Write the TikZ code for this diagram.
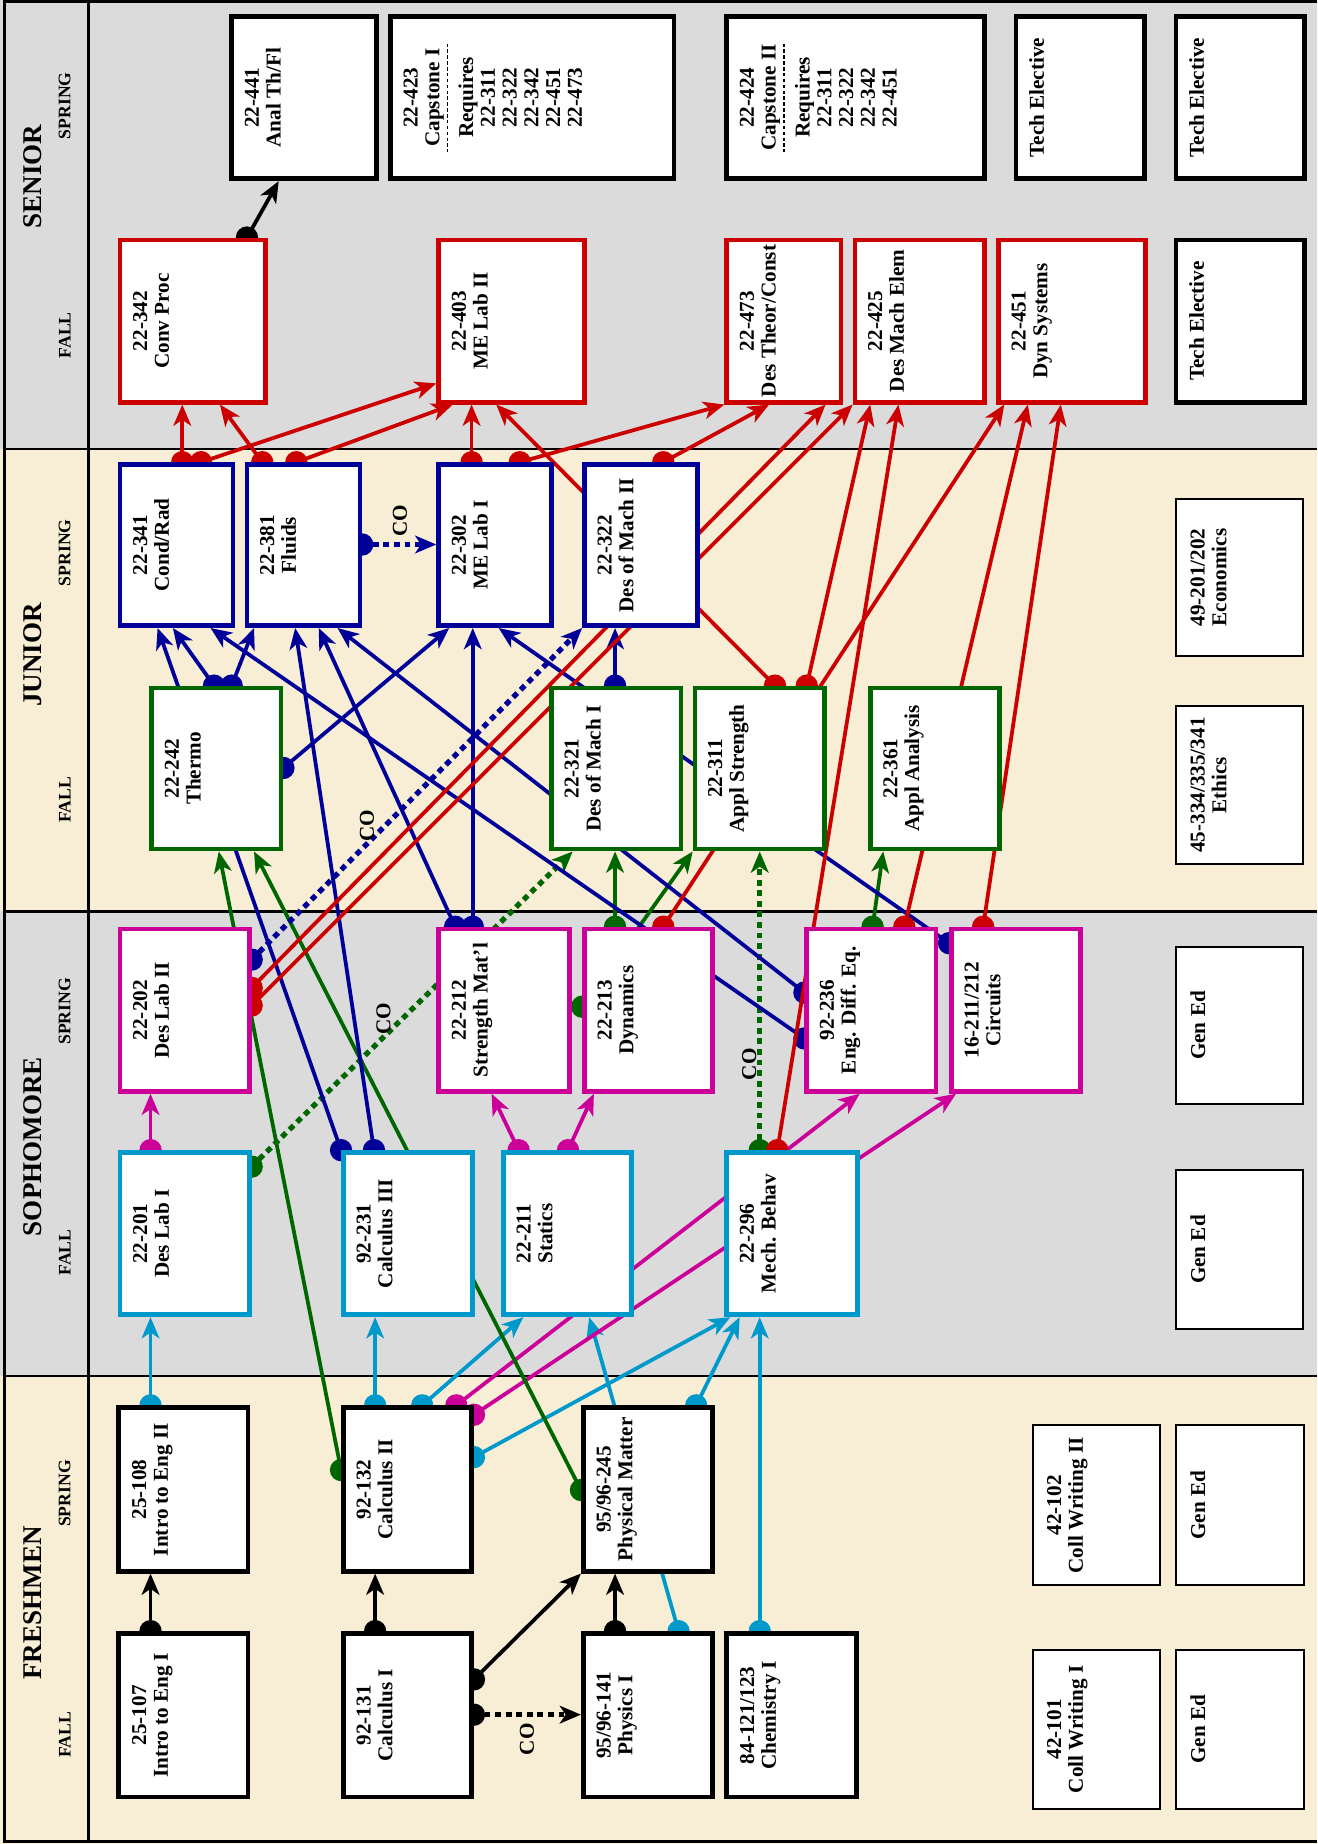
\documentclass[tikz,border=0pt]{standalone}
\usepackage{fontspec}
\setmainfont{Liberation Serif}
\usetikzlibrary{arrows.meta,calc}
\pgfdeclarelayer{bgl}\pgfdeclarelayer{connl}
\pgfsetlayers{bgl,connl,main}
\definecolor{cRed}{RGB}{204,0,0}
\definecolor{cBlue}{RGB}{0,0,153}
\definecolor{cGreen}{RGB}{0,102,0}
\definecolor{cMag}{RGB}{204,0,153}
\definecolor{cCyan}{RGB}{0,153,204}
\definecolor{bgGrey}{RGB}{219,219,219}
\definecolor{bgBeige}{RGB}{248,238,214}
\newcommand\mkbox[7]{%
  \pgfmathsetmacro\bxc{(#2+#4)/2}%
  \pgfmathsetmacro\byc{(#3+#5)/2}%
  \pgfmathsetmacro\bxw{#4-#2}%
  \pgfmathsetmacro\bxh{#5-#3}%
  \node[#6, minimum width=\bxw pt, minimum height=\bxh pt] (#1) at (\bxc,\byc) {};
  \node[lbl, anchor=north] (#1t) at ([xshift=13pt]#1.west) {#7};
}
\newcommand\mkbare[6]{%
  \pgfmathsetmacro\bxc{(#2+#4)/2}%
  \pgfmathsetmacro\byc{(#3+#5)/2}%
  \pgfmathsetmacro\bxw{#4-#2}%
  \pgfmathsetmacro\bxh{#5-#3}%
  \node[#6, minimum width=\bxw pt, minimum height=\bxh pt] (#1) at (\bxc,\byc) {};
}
\newcommand\mkconn[4][]{%
  \fill[#2] #3 circle[radius=9.5pt];
  \draw[conn=#2,#1] #3 -- #4;
}
\begin{document}
\begin{tikzpicture}[x=1pt,y=-1pt,
  box/.style={draw=#1, line width=4pt, fill=white, inner sep=0pt, rectangle},
  thinbox/.style={draw=black, line width=1.8pt, fill=white, inner sep=0pt, rectangle},
  lbl/.style={rotate=90, align=center, inner sep=0pt, font={\fontsize{18}{18.5}\selectfont\bfseries}},
  yearlbl/.style={rotate=90, inner sep=0pt, font={\fontsize{23}{23}\selectfont\bfseries}},
  semlbl/.style={rotate=90, inner sep=0pt, font={\fontsize{15}{15}\selectfont\bfseries}},
  conn/.style={draw=#1, line width=3.2pt, -{Stealth[length=18pt,width=15pt,inset=5pt]}},
  coline/.style={dash pattern=on 5pt off 4pt, line width=4.5pt},
  band/.style={line width=2pt, draw=black}]
\useasboundingbox (0,0) rectangle (1120,1568);

\begin{pgfonlayer}{bgl}
  \fill[bgGrey] (0,0) rectangle (1120,382);
  \fill[bgBeige] (0,382) rectangle (1120,775);
  \fill[bgGrey] (0,775) rectangle (1120,1170);
  \fill[bgBeige] (0,1170) rectangle (1120,1568);
  \draw[band] (4,382) -- (1120,382);
  \draw[band] (4,775) -- (1120,775);
  \draw[band] (4,1170) -- (1120,1170);
  \draw[line width=2.5pt] (1120,1.5) -- (4,1.5) -- (4,1566) -- (1120,1566);
  \draw[line width=2.5pt] (75,1.5) -- (75,1566);
\end{pgfonlayer}

% year / semester labels
\node[yearlbl] (ySen) at (28,150) {SENIOR};
\node[semlbl] (sSenF) at (55,285) {FALL};
\node[semlbl] (sSenS) at (55,90) {SPRING};
\node[yearlbl] (yJun) at (28,557) {JUNIOR};
\node[semlbl] (sJunF) at (55,680) {FALL};
\node[semlbl] (sJunS) at (55,470) {SPRING};
\node[yearlbl] (ySop) at (28,975) {SOPHOMORE};
\node[semlbl] (sSopF) at (55,1065) {FALL};
\node[semlbl] (sSopS) at (55,860) {SPRING};
\node[yearlbl] (yFre) at (28,1363) {FRESHMEN};
\node[semlbl] (sFreF) at (55,1475) {FALL};
\node[semlbl] (sFreS) at (55,1270) {SPRING};

% Freshmen fall
\mkbox{f107}{101}{1389}{211}{1528}{box=black}{25-107\\Intro to Eng I}
\mkbox{f131}{292}{1389}{401}{1528}{box=black}{92-131\\Calculus I}
\mkbox{f141}{496}{1389}{606}{1528}{box=black}{95/96-141\\Physics I}
\mkbox{f121}{618}{1389}{728}{1528}{box=black}{84-121/123\\Chemistry I}
\mkbox{cw1}{878}{1403}{986}{1538}{thinbox}{42-101\\Coll Writing I}
\mkbox{ge1a}{1000}{1403}{1109}{1538}{thinbox}{Gen Ed}
% Freshmen spring
\mkbox{f108}{101}{1197}{211}{1336}{box=black}{25-108\\Intro to Eng II}
\mkbox{f132}{292}{1197}{401}{1336}{box=black}{92-132\\Calculus II}
\mkbox{f245}{496}{1197}{606}{1336}{box=black}{95/96-245\\Physical Matter}
\mkbox{cw2}{878}{1212}{986}{1348}{thinbox}{42-102\\Coll Writing II}
\mkbox{ge1b}{1000}{1212}{1109}{1348}{thinbox}{Gen Ed}
% Sophomore fall
\mkbox{c201}{102}{980}{212}{1118}{box=cCyan}{22-201\\Des Lab I}
\mkbox{c231}{292}{980}{402}{1118}{box=cCyan}{92-231\\Calculus III}
\mkbox{c211}{428}{980}{537}{1118}{box=cCyan}{22-211\\Statics}
\mkbox{c296}{618}{980}{729}{1118}{box=cCyan}{22-296\\Mech. Behav}
\mkbox{ge2}{1000}{995}{1108}{1130}{thinbox}{Gen Ed}
% Sophomore spring
\mkbox{c202}{102}{790}{212}{928}{box=cMag}{22-202\\Des Lab II}
\mkbox{c212}{373}{790}{484}{928}{box=cMag}{22-212\\Strength Mat'l}
\mkbox{c213}{497}{790}{606}{928}{box=cMag}{22-213\\Dynamics}
\mkbox{c236}{686}{790}{796}{928}{box=cMag}{92-236\\Eng. Diff. Eq.}
\mkbox{c16}{809}{790}{919}{928}{box=cMag}{16-211/212\\Circuits}
\mkbox{ge3}{1000}{805}{1108}{939}{thinbox}{Gen Ed}
% Junior fall
\mkbox{c242}{129}{585}{239}{722}{box=cGreen}{22-242\\Thermo}
\mkbox{c321}{469}{585}{579}{722}{box=cGreen}{22-321\\Des of Mach I}
\mkbox{c311}{591}{585}{701}{722}{box=cGreen}{22-311\\Appl Strength}
\mkbox{c361}{740}{585}{850}{722}{box=cGreen}{22-361\\Appl Analysis}
\mkbox{eth}{1000}{600}{1108}{735}{thinbox}{45-334/335/341\\Ethics}
% Junior spring
\mkbox{c341}{102}{395}{198}{532}{box=cBlue}{22-341\\Cond/Rad}
\mkbox{c381}{210}{395}{306}{532}{box=cBlue}{22-381\\Fluids}
\mkbox{c302}{373}{395}{469}{532}{box=cBlue}{22-302\\ME Lab I}
\mkbox{c322}{497}{395}{593}{532}{box=cBlue}{22-322\\Des of Mach II}
\mkbox{econ}{1000}{424}{1108}{558}{thinbox}{49-201/202\\Economics}
% Senior fall
\mkbox{c342}{102}{204}{226}{342}{box=cRed}{22-342\\Conv Proc}
\mkbox{c403}{373}{204}{497}{342}{box=cRed}{22-403\\ME Lab II}
\mkbox{c473}{618}{204}{715}{342}{box=cRed}{22-473\\Des Theor/Const}
\mkbox{c425}{727}{204}{837}{342}{box=cRed}{22-425\\Des Mach Elem}
\mkbox{c451}{849}{204}{974}{342}{box=cRed}{22-451\\Dyn Systems}
\mkbox{tes}{1000}{204}{1109}{342}{box=black}{Tech Elective}
% Senior spring
\mkbox{s441}{197}{14}{320}{152}{box=black}{22-441\\Anal Th/Fl}
\mkbare{cap1}{332}{14}{573}{152}{box=black}
\node[lbl, anchor=north] (cap1a) at ([xshift=13pt]cap1.west) {22-423\\Capstone I};
\draw[line width=1.3pt, dash pattern=on 3pt off 2pt] ([xshift=3pt]cap1a.south) ++(0,-46) -- ++(0,92);
\node[lbl, anchor=north] (cap1b) at ([xshift=12pt]cap1a.south) {Requires\\22-311\\22-322\\22-342\\22-451\\22-473};
\mkbare{cap2}{618}{14}{837}{152}{box=black}
\node[lbl, anchor=north] (cap2a) at ([xshift=13pt]cap2.west) {22-424\\Capstone II};
\draw[line width=1.3pt, dash pattern=on 3pt off 2pt] ([xshift=3pt]cap2a.south) ++(0,-46) -- ++(0,92);
\node[lbl, anchor=north] (cap2b) at ([xshift=12pt]cap2a.south) {Requires\\22-311\\22-322\\22-342\\22-451};
\mkbox{te1}{864}{14}{973}{152}{box=black}{Tech Elective}
\mkbox{te2}{1000}{14}{1109}{152}{box=black}{Tech Elective}

% CO labels
\node[lbl] (co1) at (448,1479) {CO};
\node[lbl] (co2) at (326,866) {CO};
\node[lbl] (co3) at (312,702) {CO};
\node[lbl] (co4) at (340,443) {CO};
\node[lbl] (co5) at (637,905) {CO};

\begin{pgfonlayer}{connl}
% black
\mkconn{black}{(f107.north -| 128,0)}{(f108.south -| 128,0)}
\mkconn{black}{(f131.north -| 319,0)}{(f132.south -| 319,0)}
\mkconn{black}{(f141.north -| 523,0)}{(f245.south -| 523,0)}
\mkconn{black}{(f131.east |- 0,1428)}{(f245.south west)}
\mkconn[coline]{black}{(f131.east |- 0,1458)}{(f141.west |- 0,1458)}
\mkconn{black}{(c342.north -| 210,0)}{(s441.south -| 237,0)}
% cyan
\mkconn{cCyan}{(f108.north -| 128,0)}{(c201.south -| 128,0)}
\mkconn{cCyan}{(f132.north -| 319,0)}{(c231.south -| 319,0)}
\mkconn{cCyan}{(f132.north -| 359,0)}{(c211.south -| 445,0)}
\mkconn{cCyan}{(f132.east |- 0,1239)}{(c296.south -| 621,0)}
\mkconn{cCyan}{(f245.north -| 592,0)}{(c296.south -| 629,0)}
\mkconn{cCyan}{(f141.north -| 577,0)}{(c211.south -| 501,0)}
\mkconn{cCyan}{(f121.north -| 646,0)}{(c296.south -| 646,0)}
% magenta
\mkconn{cMag}{(c201.north -| 128,0)}{(c202.south -| 128,0)}
\mkconn{cMag}{(c211.north -| 441,0)}{(c212.south -| 418,0)}
\mkconn{cMag}{(c211.north -| 483,0)}{(c213.south -| 505,0)}
\mkconn{cMag}{(f132.north -| 388,0)}{(c236.south -| 731,0)}
\mkconn{cMag}{(f132.east |- 0,1203)}{(c16.south -| 813,0)}
% green
\mkconn{cGreen}{(f132.west |- 0,1250)}{(c242.south -| 186,0)}
\mkconn{cGreen}{(f245.west |- 0,1267)}{(c242.south -| 216,0)}
\mkconn[coline]{cGreen}{(c201.east |- 0,992)}{(c321.south -| 487,0)}
\mkconn{cGreen}{(c213.north -| 523,0)}{(c321.south -| 523,0)}
\mkconn{cGreen}{(c213.west |- 0,856)}{(c311.south west)}
\mkconn[coline]{cGreen}{(c296.north -| 646,0)}{(c311.south -| 646,0)}
\mkconn{cGreen}{(c236.north -| 742,0)}{(c361.south -| 751,0)}
% dark blue
\mkconn{cBlue}{(c231.north west)}{(c341.south -| 134,0)}
\mkconn{cBlue}{(c231.north -| 318,0)}{(c381.south -| 251,0)}
\mkconn{cBlue}{(c242.north -| 182,0)}{(c341.south -| 147,0)}
\mkconn{cBlue}{(c242.north -| 197,0)}{(c381.south -| 216,0)}
\mkconn{cBlue}{(c242.east |- 0,653)}{(c302.south -| 382,0)}
\mkconn{cBlue}{(c212.north -| 387,0)}{(c381.south -| 271,0)}
\mkconn{cBlue}{(c212.north -| 402,0)}{(c302.south -| 402,0)}
\mkconn{cBlue}{(c321.north -| 523,0)}{(c322.south -| 523,0)}
\mkconn{cBlue}{(c236.west |- 0,844)}{(c381.south -| 287,0)}
\mkconn{cBlue}{(c236.west |- 0,883)}{(c341.south -| 179,0)}
\mkconn{cBlue}{(c16.west |- 0,802)}{(c302.south -| 424,0)}
\mkconn[coline]{cBlue}{(c202.east |- 0,816)}{(c322.south west)}
\mkconn[coline]{cBlue}{(c381.east |- 0,463)}{(c302.west |- 0,463)}
% red
\mkconn{cRed}{(c341.north -| 155,0)}{(c342.south -| 155,0)}
\mkconn{cRed}{(c341.north -| 171,0)}{(c403.west |- 0,326)}
\mkconn{cRed}{(c381.north -| 223,0)}{(c342.south -| 187,0)}
\mkconn{cRed}{(c381.north -| 252,0)}{(c403.south -| 385,0)}
\mkconn{cRed}{(c302.north -| 401,0)}{(c403.south -| 401,0)}
\mkconn{cRed}{(c302.north -| 442,0)}{(c473.south west)}
\mkconn{cRed}{(c322.north -| 564,0)}{(c473.south -| 654,0)}
\mkconn{cRed}{(c311.north -| 659,0)}{(c403.south -| 422,0)}
\mkconn{cRed}{(c311.north -| 686,0)}{(c425.south -| 740,0)}
\mkconn{cRed}{(c202.east |- 0,840)}{(c473.south -| 702,0)}
\mkconn{cRed}{(c202.east |- 0,855)}{(c425.south west)}
\mkconn{cRed}{(c296.north -| 661,0)}{(c425.south -| 764,0)}
\mkconn{cRed}{(c213.north -| 564,0)}{(c451.south -| 854,0)}
\mkconn{cRed}{(c236.north -| 769,0)}{(c451.south -| 874,0)}
\mkconn{cRed}{(c16.north -| 836,0)}{(c451.south -| 902,0)}
\end{pgfonlayer}
\end{tikzpicture}
\end{document}
